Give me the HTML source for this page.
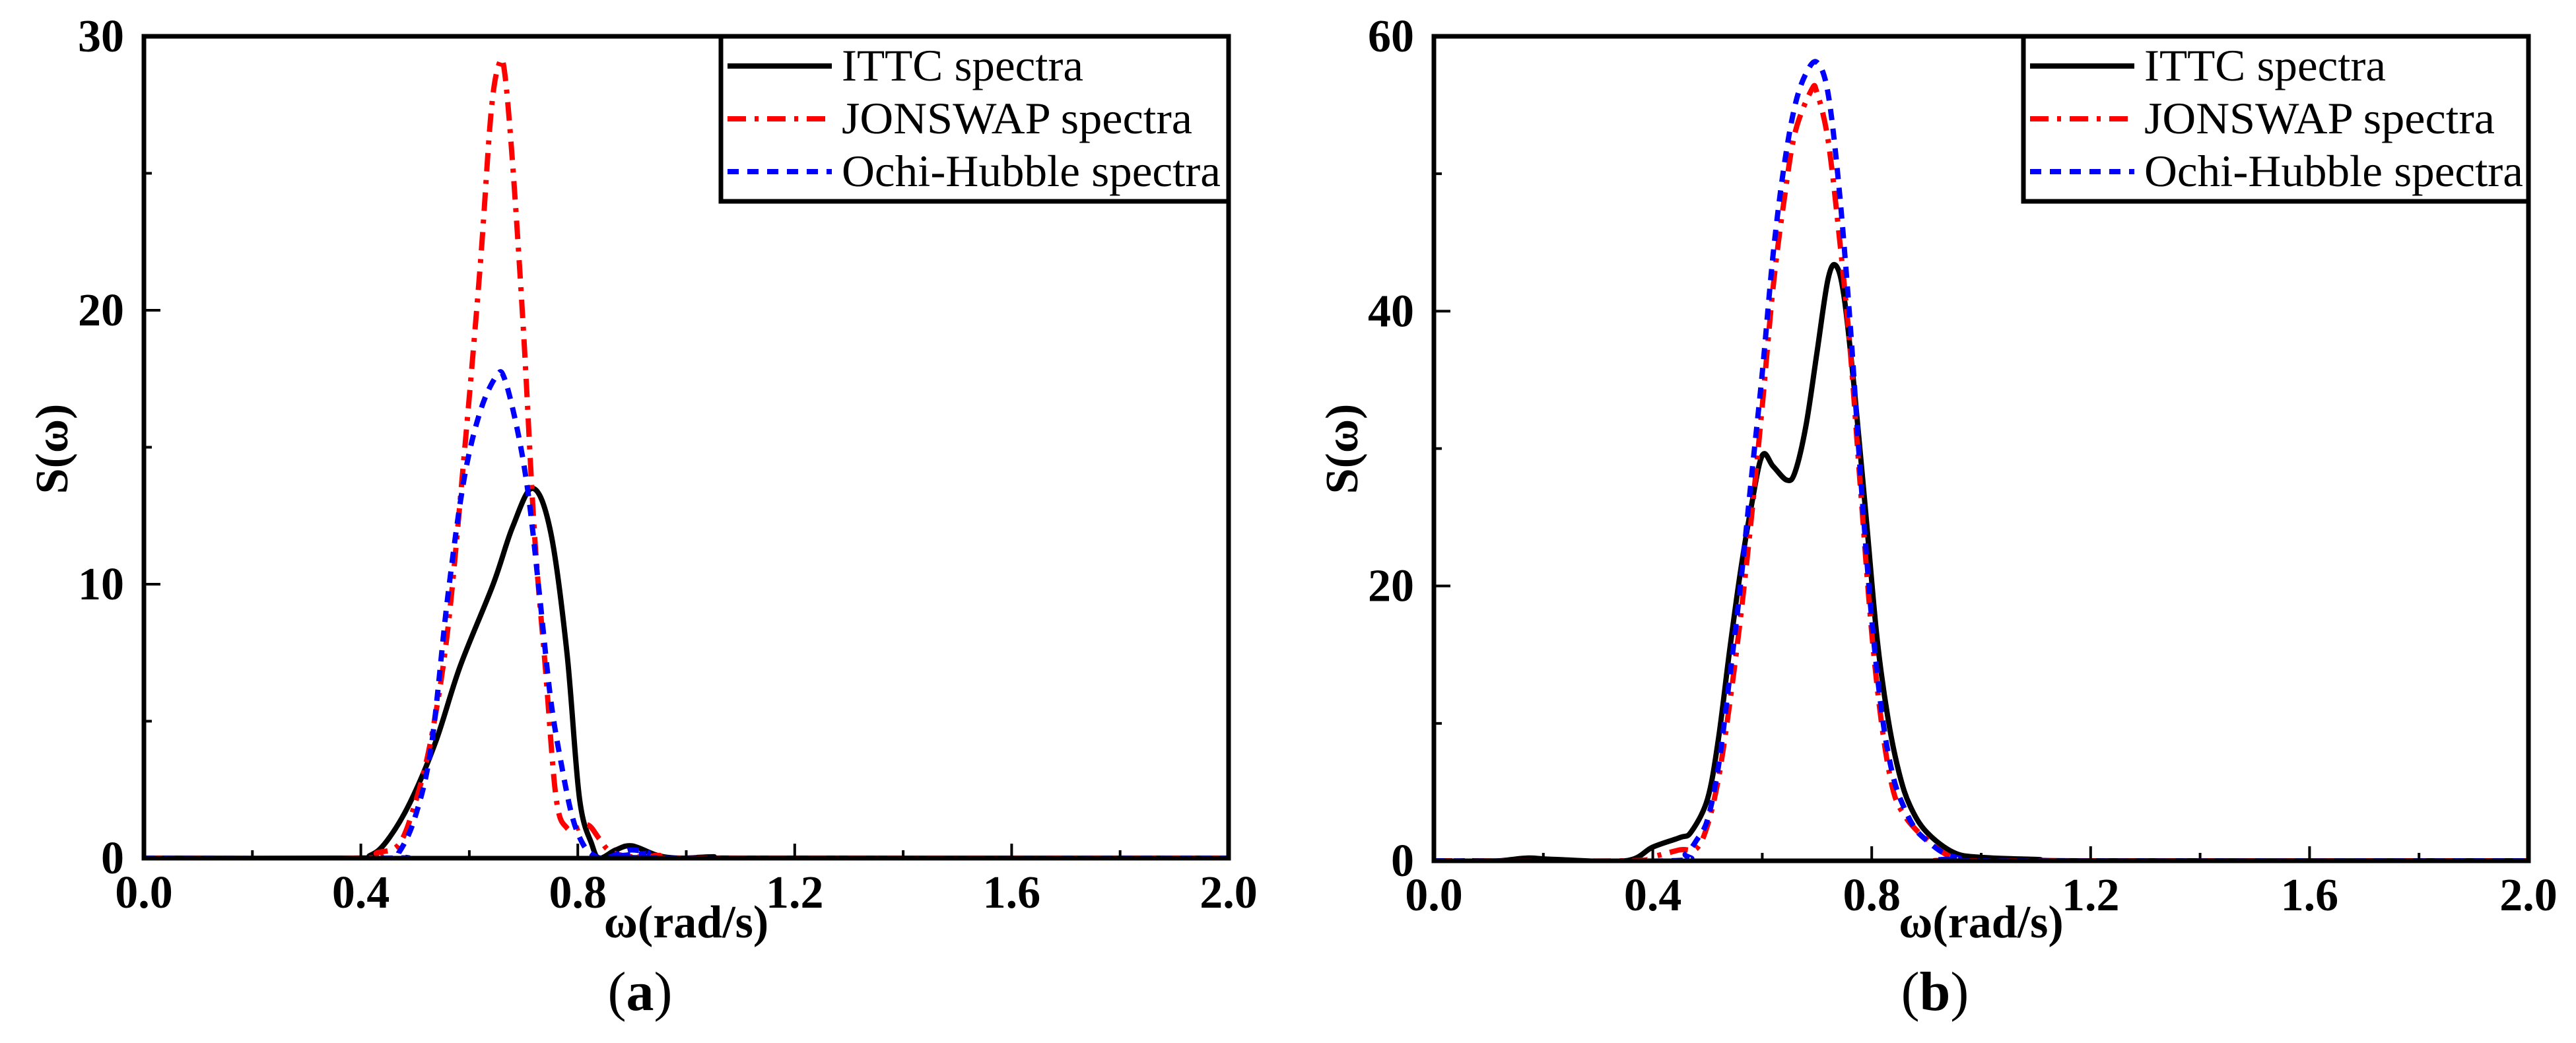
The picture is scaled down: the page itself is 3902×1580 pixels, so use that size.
<!DOCTYPE html>
<html><head><meta charset="utf-8">
<style>
html,body{margin:0;padding:0;background:#fff;}
svg{display:block;}
text{font-family:"Liberation Serif",serif;}
.tick{font-weight:bold;font-size:70px;}
.leg{font-size:68px;}
</style></head>
<body>
<svg id="chart" width="3902" height="1580" viewBox="0 0 3902 1580" xmlns="http://www.w3.org/2000/svg"></svg>
<script>
// ---- data (a) ----
const aIttcX = [0,0.38,0.417,0.447,0.49,0.538,0.583,0.644,0.68,0.717,0.75,0.78,0.803,0.826,0.84,0.87,0.9,0.947,0.99,1.05,1.1,2.0];
const aIttcY = [0,0,0.1,0.6,2.0,4.25,7.0,10.0,12.1,13.5,11.9,7.5,2.2,0.5,0,0.3,0.45,0.1,0,0.05,0,0];
const aJonX = [0,0.4,0.43,0.47,0.5,0.53,0.56,0.59,0.62,0.64,0.655,0.665,0.68,0.70,0.72,0.74,0.76,0.78,0.80,0.82,0.84,0.86,0.9,0.95,1.0,2.0];
const aJonY = [0,0,0.2,0.5,2.0,4.4,8.3,14.6,21.6,27.2,29.0,28.7,25.3,19.2,11.9,7.0,2.2,1.1,1.1,1.2,0.7,0.25,0.05,0.1,0,0];
const aOchX = [0,0.45,0.47,0.5,0.53,0.56,0.59,0.62,0.65,0.665,0.69,0.71,0.73,0.75,0.77,0.79,0.81,0.83,0.85,0.88,0.9,0.93,0.96,2.0];
const aOchY = [0,0,0.2,1.5,4.1,9.5,13.8,16.3,17.6,17.5,15.5,13.1,9.5,5.8,3.4,1.5,0.5,0.1,0,0.2,0.3,0.2,0,0];
// ---- data (b) ----
const bIttcX = [0.07,0.12,0.17,0.22,0.35,0.4,0.45,0.47,0.5,0.52,0.54,0.56,0.58,0.6,0.62,0.645,0.66,0.68,0.70,0.72,0.735,0.75,0.77,0.79,0.81,0.83,0.85,0.87,0.9,0.95,1.0,1.1,1.2,2.0];
const bIttcY = [0,0,0.2,0.1,0,1.0,1.7,2.1,4.5,8.9,15.2,21.0,25.8,29.5,28.7,27.7,28.3,31.7,37,42.3,43.3,40.9,33.6,24.9,16.1,10.3,6.4,4.0,2.1,0.6,0.25,0.1,0,0];
const bJonX = [0,0.35,0.4,0.45,0.48,0.5,0.52,0.54,0.56,0.58,0.6,0.62,0.64,0.66,0.69,0.70,0.72,0.74,0.76,0.78,0.80,0.82,0.84,0.86,0.88,0.9,0.93,0.96,1.0,2.0];
const bJonY = [0,0,0.3,0.8,0.9,2.6,6.0,11.3,17.6,24.9,33.1,41.8,48.1,53.0,56.1,55.9,52.5,45.7,37.5,26.8,16.6,9.4,5.0,3.3,2.3,1.6,0.6,0.1,0,0];
const bOchX = [0,0.43,0.46,0.48,0.5,0.52,0.54,0.56,0.58,0.6,0.62,0.64,0.66,0.68,0.70,0.72,0.74,0.76,0.78,0.80,0.82,0.84,0.86,0.88,0.9,0.93,0.96,1.0,2.0];
const bOchY = [0,0,0.5,1.5,3.0,6.9,13.2,20.0,27.8,35.5,44.2,50.6,55,57.3,58.1,55.9,49.1,39.4,27.8,17.6,10.3,6.0,3.8,2.3,1.5,0.6,0.2,0,0];
const xTicks = ["0.0","0.4","0.8","1.2","1.6","2.0"];
const aYTicks = ["0","10","20","30"];
const bYTicks = ["0","20","40","60"];
const legendLabels = ["ITTC spectra","JONSWAP spectra","Ochi-Hubble spectra"];

const NS="http://www.w3.org/2000/svg";
const svg=document.getElementById('chart');
function mk(tag,attrs,parent){const e=document.createElementNS(NS,tag);for(const k in attrs)e.setAttribute(k,attrs[k]);(parent||svg).appendChild(e);return e;}

function path(pts){
  let d=`M${pts[0][0]},${pts[0][1]}`;
  for(let i=0;i<pts.length-1;i++){
    const p0=pts[i-1]||pts[i],p1=pts[i],p2=pts[i+1],p3=pts[i+2]||p2;
    const c1=[p1[0]+(p2[0]-p0[0])/6,p1[1]+(p2[1]-p0[1])/6];
    const c2=[p2[0]-(p3[0]-p1[0])/6,p2[1]-(p3[1]-p1[1])/6];
    d+=` C${c1[0]},${c1[1]} ${c2[0]},${c2[1]} ${p2[0]},${p2[1]}`;
  }
  return d;
}

const styles=[
  {stroke:'#000',dash:''},
  {stroke:'#ff0000',dash:'28 13 6 13'},
  {stroke:'#0000ff',dash:'17 13'}
];

function panel(id,L,R,T,B,yMax,yTicks,series,legL,labelName){
  const g=mk('g',{});
  
  
  const xs=v=>L+(v/2)*(R-L);
  const ys=v=>B-(v/yMax)*(B-T);
  const cp=mk('clipPath',{id:id+'clip'},g);
  mk('rect',{x:L,y:T,width:R-L,height:B-T},cp);
  series.forEach((s,i)=>{
    const pts=s.x.map((xv,j)=>[xs(xv),ys(s.y[j])]);
    const p=mk('path',{d:path(pts),fill:'none',stroke:styles[i].stroke,'stroke-width':8,'stroke-dasharray':styles[i].dash,'stroke-linejoin':'round','clip-path':`url(#${id}clip)`},g);
    
    
  });
  const fr=mk('rect',{x:L,y:T,width:R-L,height:B-T,fill:'none',stroke:'#000','stroke-width':7},g);
  
  
  for(let k=0;k<=10;k++){
    const v=k*0.2,x=xs(v),len=(k%2===0)?22:12;
    mk('line',{x1:x,y1:B,x2:x,y2:B-len,stroke:'#000','stroke-width':4},g);
  }
  xTicks.forEach(t=>{
    const tx=mk('text',{x:xs(parseFloat(t)),y:B+75,'text-anchor':'middle',class:'tick'},g);
    tx.textContent=t;
    
    
  });
  const step=yMax/3;
  for(let k=0;k<=6;k++){
    const v=k*step/2,y=ys(v),len=(k%2===0)?25:12;
    mk('line',{x1:L,y1:y,x2:L+len,y2:y,stroke:'#000','stroke-width':4},g);
  }
  yTicks.forEach(t=>{
    const tx=mk('text',{x:L-30,y:ys(parseFloat(t))+23,'text-anchor':'end',class:'tick'},g);
    tx.textContent=t;
    
    
  });
  const yt=mk('text',{x:0,y:0,transform:`translate(${L-116},680) rotate(-90)`,'text-anchor':'middle',class:'tick'},g);
  yt.textContent='S(ω)';
  
  
  const xt=mk('text',{x:(L+R)/2,y:1420,'text-anchor':'middle',class:'tick'},g);
  xt.textContent='ω(rad/s)';
  
  
  const pl=mk('text',{x:(L+R)/2-70,y:1530,'text-anchor':'middle','font-size':84},g);
  pl.innerHTML='(<tspan font-weight="bold">'+labelName+'</tspan>)';
  
  
  const lg=mk('g',{},g);
  
  
  mk('rect',{x:legL,y:T,width:R-legL,height:250,fill:'#fff',stroke:'#000','stroke-width':7},lg);
  legendLabels.forEach((lab,i)=>{
    const yy=T+45+i*80;
    const ln=mk('line',{x1:legL+10,y1:yy,x2:legL+168,y2:yy,stroke:styles[i].stroke,'stroke-width':8,'stroke-dasharray':styles[i].dash},lg);
    
    
    const tx=mk('text',{x:legL+183,y:yy+22,class:'leg',textLength:[366,531,574][i],lengthAdjust:'spacingAndGlyphs'},lg);
    tx.textContent=lab;
    
    
  });
}

panel('a',218,1861,55,1300,30,aYTicks,[{x:aIttcX,y:aIttcY},{x:aJonX,y:aJonY},{x:aOchX,y:aOchY}],1092,'a');
panel('b',2172,3830,55,1304,60,bYTicks,[{x:bIttcX,y:bIttcY},{x:bJonX,y:bJonY},{x:bOchX,y:bOchY}],3065,'b');
</script>
</body></html>
